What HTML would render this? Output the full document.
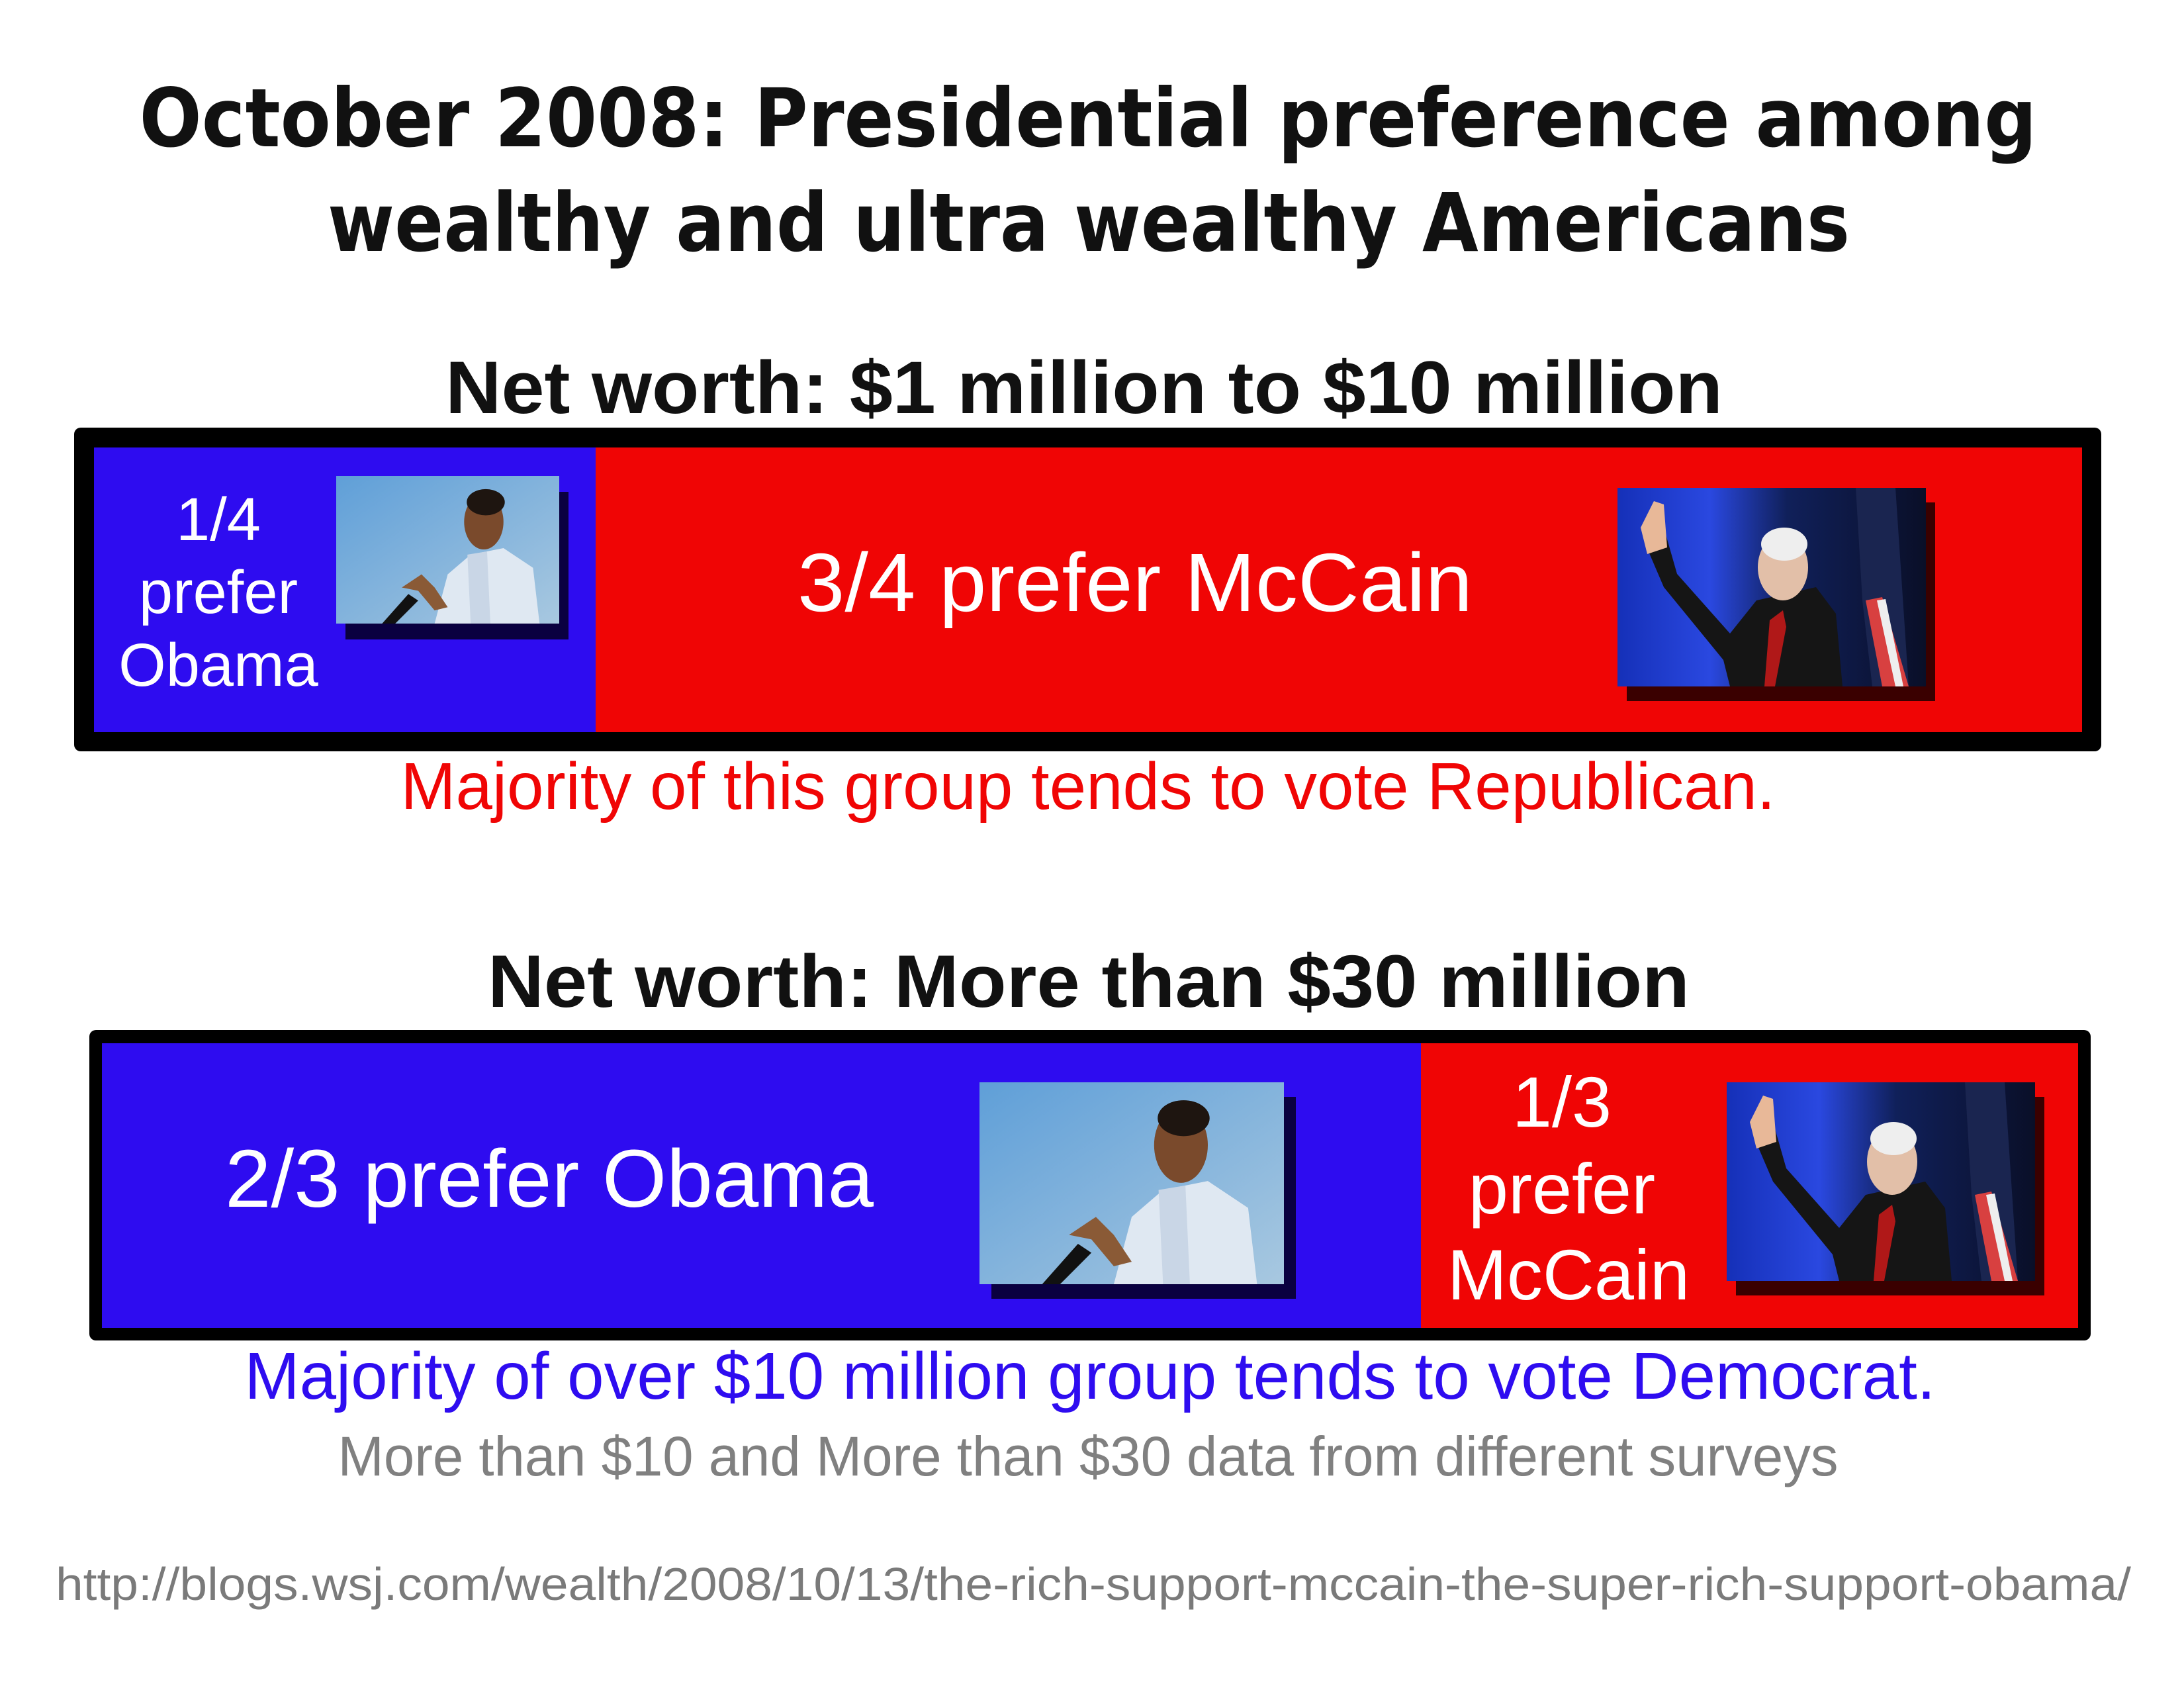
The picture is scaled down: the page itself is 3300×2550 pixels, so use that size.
<!DOCTYPE html>
<html><head><meta charset="utf-8"><style>
html,body{margin:0;padding:0;background:#fff;}
svg{display:block;}
</style></head><body>
<svg width="3300" height="2550" viewBox="0 0 3300 2550" xmlns="http://www.w3.org/2000/svg">
<defs>
<linearGradient id="sky" x1="0" y1="0" x2="1" y2="1">
<stop offset="0" stop-color="#5f9fd8"/><stop offset="1" stop-color="#a8c8e0"/></linearGradient>
<linearGradient id="curt" x1="0" y1="0" x2="1" y2="0">
<stop offset="0" stop-color="#1530b8"/><stop offset="0.3" stop-color="#2a48e0"/><stop offset="0.55" stop-color="#10205a"/><stop offset="1" stop-color="#0a0f28"/></linearGradient>
<symbol id="obama" viewBox="0 0 340 225" preserveAspectRatio="none">
<rect width="340" height="225" fill="url(#sky)"/>
<path d="M150 225 L170 150 L205 120 L255 110 L300 140 L310 225 Z" fill="#dfe8f2"/>
<path d="M200 120 L230 115 L235 225 L205 225 Z" fill="#c9d6e6"/>
<ellipse cx="225" cy="70" rx="30" ry="42" fill="#7a4a2c"/>
<ellipse cx="228" cy="40" rx="29" ry="20" fill="#1e1510"/>
<path d="M100 170 L130 150 L150 170 L170 200 L150 205 L125 175 Z" fill="#8a5a36"/>
<path d="M70 225 L110 180 L125 190 L90 225 Z" fill="#111"/>
</symbol>
<symbol id="mccain" viewBox="0 0 466 300" preserveAspectRatio="none">
<rect width="466" height="300" fill="url(#curt)"/>
<path d="M360 0 L420 0 L440 300 L385 300 L370 170 Z" fill="#1a2550"/>
<path d="M375 170 L400 165 L440 300 L400 300 Z" fill="#d84040"/>
<path d="M392 170 L405 168 L432 300 L420 300 Z" fill="#eee"/>
<path d="M40 80 L70 60 L90 130 L170 220 L210 170 L300 150 L330 190 L340 300 L170 300 L160 260 L70 150 Z" fill="#151515"/>
<path d="M230 200 L250 185 L255 210 L238 300 L222 300 Z" fill="#b01818"/>
<ellipse cx="250" cy="120" rx="38" ry="50" fill="#e2bfa8"/>
<ellipse cx="252" cy="85" rx="35" ry="25" fill="#eeeeee"/>
<path d="M35 60 L55 20 L70 25 L75 90 L45 100 Z" fill="#e8b898"/>
</symbol>
</defs>

<g font-family="'DejaVu Sans','Liberation Sans',sans-serif" font-weight="bold" fill="#111" text-anchor="middle">
<text x="1644" y="221" font-size="122" textLength="2867" lengthAdjust="spacingAndGlyphs">October 2008: Presidential preference among</text>
<text x="1645" y="379" font-size="122" textLength="2300" lengthAdjust="spacingAndGlyphs">wealthy and ultra wealthy Americans</text>
</g>
<g font-family="'Liberation Sans',sans-serif" font-weight="bold" fill="#111" text-anchor="middle">
<text x="1638" y="624" font-size="112" textLength="1930" lengthAdjust="spacingAndGlyphs">Net worth: $1 million to $10 million</text>
<text x="1645" y="1521" font-size="112" textLength="1816" lengthAdjust="spacingAndGlyphs">Net worth: More than $30 million</text>
</g>

<!-- box 1 -->
<rect x="112" y="646" width="3063" height="489" rx="10" fill="#000"/>
<rect x="142" y="676" width="758" height="430" fill="#2e0cf0"/>
<rect x="900" y="676" width="2246" height="430" fill="#f00505"/>
<rect x="522" y="743" width="337" height="223" fill="#0a0040"/>
<use href="#obama" x="508" y="719" width="337" height="223"/>
<rect x="2458" y="759" width="466" height="300" fill="#3a0000"/>
<use href="#mccain" x="2444" y="737" width="466" height="300"/>

<!-- box 2 -->
<rect x="135" y="1556" width="3024" height="469" rx="10" fill="#000"/>
<rect x="154" y="1576" width="1993" height="430" fill="#2e0cf0"/>
<rect x="2147" y="1576" width="993" height="430" fill="#f00505"/>
<rect x="1498" y="1657" width="460" height="305" fill="#0a0040"/>
<use href="#obama" x="1480" y="1635" width="460" height="305"/>
<rect x="2623" y="1657" width="466" height="300" fill="#3a0000"/>
<use href="#mccain" x="2609" y="1635" width="466" height="300"/>

<g font-family="'Liberation Sans',sans-serif" fill="#fff" text-anchor="middle">
<text x="330" y="816" font-size="92">1/4</text>
<text x="330" y="926" font-size="92">prefer</text>
<text x="330" y="1036" font-size="92">Obama</text>
<text x="1715" y="923" font-size="125" textLength="1020" lengthAdjust="spacingAndGlyphs">3/4 prefer McCain</text>
<text x="830" y="1823" font-size="123" textLength="980" lengthAdjust="spacingAndGlyphs">2/3 prefer Obama</text>
<text x="2360" y="1702" font-size="108">1/3</text>
<text x="2360" y="1833" font-size="108">prefer</text>
<text x="2370" y="1963" font-size="108">McCain</text>
</g>

<g font-family="'Liberation Sans',sans-serif" text-anchor="middle">
<text x="1644" y="1222" font-size="100" fill="#f00505" textLength="2077" lengthAdjust="spacingAndGlyphs">Majority of this group tends to vote Republican.</text>
<text x="1647" y="2113" font-size="100" fill="#2e0cf0" textLength="2555" lengthAdjust="spacingAndGlyphs">Majority of over $10 million group tends to vote Democrat.</text>
<text x="1644" y="2229" font-size="84" fill="#808080" textLength="2267" lengthAdjust="spacingAndGlyphs">More than $10 and More than $30 data from different surveys</text>
<text x="1652" y="2417" font-size="70" fill="#7a7a7a" textLength="3136" lengthAdjust="spacingAndGlyphs">http://blogs.wsj.com/wealth/2008/10/13/the-rich-support-mccain-the-super-rich-support-obama/</text>
</g>
</svg>
</body></html>
